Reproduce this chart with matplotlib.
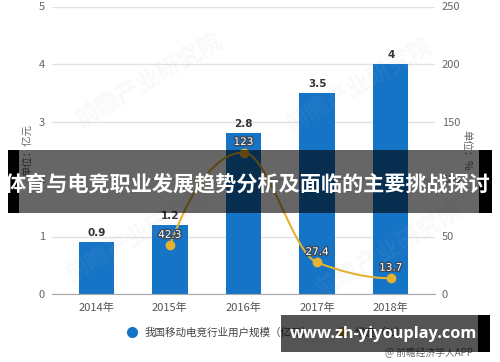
import numpy as np
import matplotlib
matplotlib.use("Agg")
import matplotlib.pyplot as plt
import matplotlib.patheffects as pe
from matplotlib.patches import Rectangle
from matplotlib.lines import Line2D

plt.rcParams['font.family'] = ['Noto Sans CJK SC', 'DejaVu Sans']

# data
years = ["2014年", "2015年", "2016年", "2017年", "2018年"]
users = [0.9, 1.2, 2.8, 3.5, 4]          # 亿元
growth_years = [1, 2, 3, 4]              # index of years with a growth value
growth = [42.3, 123, 27.4, 13.7]         # %

bar_label_txt = ["0.9", "1.2", "2.8", "3.5", "4"]
growth_label_txt = ["42.3", "123", "27.4", "13.7"]

W, H = 500, 362
fig = plt.figure(figsize=(W / 100, H / 100), dpi=100)
fig.patch.set_facecolor('white')

def fx(px):
    return px / W

def fy(py):
    return 1 - py / H

ax = fig.add_axes([fx(52), fy(294), fx(435) - fx(52), fy(6.5) - fy(294)])
ax2 = ax.twinx()

blue = '#1674c6'
gold = '#e6b232'

x = np.arange(len(years))
ax.bar(x, users, width=0.48, color=blue, zorder=2)
ax.set_xlim(-0.6, 4.6)
ax.set_ylim(0, 5)
ax2.set_ylim(0, 250)
ax.set_yticks(range(0, 6))
ax2.set_yticks(range(0, 251, 50))
ax.set_xticks(x)
ax.set_xticklabels(years)
ax.yaxis.grid(True, color='#e2e2e2', lw=1, zorder=0)
ax.set_axisbelow(True)
for a in (ax, ax2):
    for s in a.spines.values():
        s.set_visible(False)
    a.tick_params(length=0, labelsize=8, labelcolor='#666666')
ax.spines['bottom'].set_visible(True)
ax.spines['bottom'].set_color('#aaaaaa')
ax.tick_params(axis='x', pad=6, labelcolor='#555555')
ax.tick_params(axis='y', pad=5)
ax2.tick_params(axis='y', pad=5)

ax.set_ylabel("单位：亿元", fontsize=7.5, color='#666666')
ax.yaxis.set_label_coords(-0.05, 0.5)
ax2.set_ylabel("单位：%", fontsize=7.5, color='#666666', rotation=270, va='bottom')
ax2.yaxis.set_label_coords(1.07, 0.5)

for xi, v, t in zip(x, users, bar_label_txt):
    ax.annotate(t, (xi, v), xytext=(0, 3), textcoords='offset points',
                ha='center', va='bottom', fontsize=7.5, fontweight='bold',
                color='#333333', family='DejaVu Sans')

# smooth curve (monotone cubic through the points)
gx = np.array(growth_years, dtype=float)
gy = np.array(growth, dtype=float)
delta = np.diff(gy)
d = np.zeros_like(gy)
for k in range(1, len(gy) - 1):
    if delta[k - 1] * delta[k] > 0:
        d[k] = 2 / (1 / delta[k - 1] + 1 / delta[k])
d0 = (3 * delta[0] - delta[1]) / 2
d[0] = d0 if np.sign(d0) == np.sign(delta[0]) else 0
dn = (3 * delta[-1] - delta[-2]) / 2
d[-1] = dn if np.sign(dn) == np.sign(delta[-1]) else 0
cx, cy = [], []
t = np.linspace(0, 1, 40)
for k in range(len(gy) - 1):
    h00 = 2 * t**3 - 3 * t**2 + 1
    h10 = t**3 - 2 * t**2 + t
    h01 = -2 * t**3 + 3 * t**2
    h11 = t**3 - t**2
    cx.extend(gx[k] + t)
    cy.extend(h00 * gy[k] + h10 * d[k] + h01 * gy[k + 1] + h11 * d[k + 1])
ax2.plot(cx, cy, color=gold, lw=1.5, zorder=3)
ax2.plot(gx, gy, 'o', color=gold, ms=6, zorder=4)
for xi, v, tx in zip(gx, gy, growth_label_txt):
    ax2.annotate(tx, (xi, v), xytext=(0, 4), textcoords='offset points',
                 ha='center', va='bottom', fontsize=7.5, color='white',
                 family='DejaVu Sans',
                 path_effects=[pe.withStroke(linewidth=2, foreground='#3a4a5a')])

# faint watermark
for (wx, wy) in [(150, 80), (360, 85), (140, 235), (390, 250)]:
    fig.text(fx(wx), fy(wy), "前瞻产业研究院", fontsize=17, fontweight='bold',
             color='#b0b8c4', alpha=0.08, rotation=30, ha='center', va='center')

# legend
handles = [Line2D([], [], ls='', marker='o', ms=7, color=blue),
           Line2D([], [], ls='', marker='o', ms=7, color=gold)]
fig.legend(handles, ["我国移动电竞行业用户规模（亿元）", "增速（%）"],
           loc='center left', bbox_to_anchor=(fx(112), fy(333)), ncol=2,
           frameon=False, fontsize=7.6, handletextpad=0.2, columnspacing=1.8,
           labelcolor='#444444')

fig.text(fx(473), fy(353), "@ 前瞻经济学人APP", fontsize=7, color='#666666',
         ha='right', va='center')

# title banner
fig.add_artist(Rectangle((fx(8), fy(213)), fx(11), fy(150) - fy(213),
                         transform=fig.transFigure, color='black', lw=0, zorder=10))
fig.add_artist(Rectangle((fx(479), fy(213)), fx(13), fy(150) - fy(213),
                         transform=fig.transFigure, color='black', lw=0, zorder=10))
fig.add_artist(Rectangle((fx(19), fy(213)), fx(460), fy(150) - fy(213),
                         transform=fig.transFigure, color='black', alpha=0.6,
                         lw=0, zorder=10))
fig.text(fx(248), fy(184), "体育与电竞职业发展趋势分析及面临的主要挑战探讨",
         fontsize=15.2, fontweight='bold', color='white', ha='center',
         va='center', zorder=11)

# site banner
fig.add_artist(Rectangle((fx(281), fy(352)), fx(197), fy(315) - fy(352),
                         transform=fig.transFigure, color='black', alpha=0.67,
                         lw=0, zorder=10))
fig.add_artist(Rectangle((fx(478), fy(352)), fx(12), fy(315) - fy(352),
                         transform=fig.transFigure, color='black', lw=0, zorder=10))
fig.text(fx(384), fy(334), "www.zh-yiyouplay.com", fontsize=11.8,
         fontweight='bold', color='white', ha='center', va='center',
         family='Open Sans', zorder=11)

fig.savefig("out.png", dpi=100)
